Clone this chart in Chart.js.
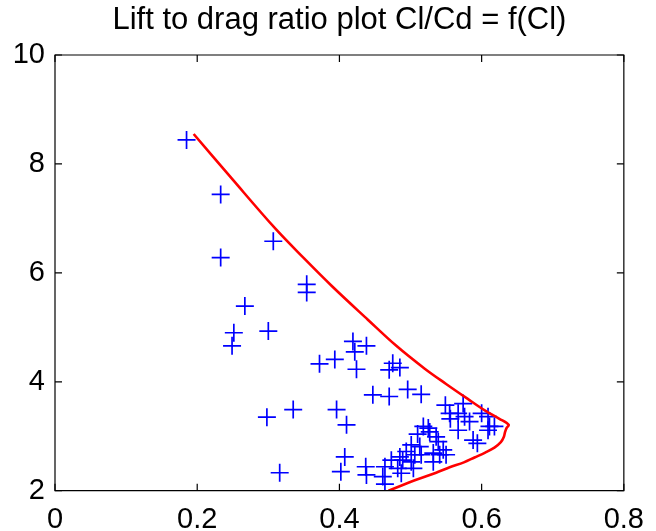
<!DOCTYPE html>
<html>
<head>
<meta charset="utf-8">
<script src="https://cdn.jsdelivr.net/npm/chart.js@4/dist/chart.umd.min.js"></script>
<style>
  html, body { margin: 0; padding: 0; background: #ffffff; }
  #wrap { width: 656px; height: 531px; }
</style>
</head>
<body>
<div id="wrap"><canvas id="c" width="656" height="531"></canvas></div>
<script>
// Measured lift coefficient and lift-to-drag ratio
const clMeasured = [
  0.185, 0.233, 0.233, 0.307, 0.354, 0.354, 0.267, 0.2515, 0.249, 0.300,
  0.419, 0.438, 0.4216, 0.372, 0.3935, 0.424, 0.475, 0.485, 0.470, 0.447,
  0.470, 0.496, 0.515, 0.335, 0.298, 0.396, 0.410, 0.4075, 0.402, 0.316,
  0.437, 0.438, 0.464, 0.464, 0.549, 0.574, 0.555, 0.567, 0.576, 0.583,
  0.600, 0.609, 0.611, 0.618, 0.609, 0.588, 0.594, 0.567, 0.518, 0.525,
  0.527, 0.510, 0.539, 0.546, 0.541, 0.550, 0.501, 0.513, 0.494, 0.506,
  0.515, 0.485, 0.489, 0.501, 0.473, 0.482, 0.461, 0.504, 0.532, 0.536,
  0.487, 0.532, 0.556
];
const ldMeasured = [
  8.44, 7.44, 6.28, 6.58, 5.79, 5.64, 5.39, 4.90, 4.66, 4.93,
  4.74, 4.66, 4.55, 4.33, 4.41, 4.23, 4.34, 4.26, 4.22, 3.76,
  3.73, 3.86, 3.77, 3.49, 3.35, 3.49, 3.21, 2.62, 2.35, 2.33,
  2.44, 2.29, 2.44, 2.12, 3.57, 3.60, 3.42, 3.42, 3.36, 3.27,
  3.42, 3.36, 3.18, 3.18, 3.11, 2.93, 2.87, 3.11, 3.18, 3.15,
  3.08, 3.04, 2.90, 2.75, 2.66, 2.66, 2.84, 2.81, 2.72, 2.66,
  2.66, 2.62, 2.56, 2.53, 2.56, 2.41, 2.26, 2.41, 2.69, 2.99,
  2.32, 2.53, 3.32
];

// Envelope curve Cl/Cd = f(Cl): upper branch to the tip, then the lower branch
const clEnvelope = [
  0.195, 0.25, 0.31, 0.35, 0.39, 0.44, 0.48, 0.52, 0.55, 0.58, 0.605, 0.625, 0.638,
  0.635, 0.633, 0.631, 0.627, 0.618, 0.605, 0.59, 0.575, 0.555, 0.536, 0.51, 0.49, 0.469
];
const ldEnvelope = [
  8.55, 7.71, 6.81, 6.27, 5.75, 5.14, 4.66, 4.24, 3.96, 3.69, 3.47, 3.32, 3.21,
  3.15, 3.08, 2.98, 2.89, 2.79, 2.70, 2.61, 2.52, 2.43, 2.33, 2.21, 2.11, 2.00
];

const xTicks = [0, 0.2, 0.4, 0.6, 0.8];
const yTicks = [2, 4, 6, 8, 10];

const FONT = "'Liberation Sans', Arial, Helvetica, sans-serif";

const measuredPoints = clMeasured.map((x, i) => ({ x: x, y: ldMeasured[i] }));
const envelopePoints = clEnvelope.map((x, i) => ({ x: x, y: ldEnvelope[i] }));

// Box frame with inward tick marks on all four sides
const boxFrame = {
  id: 'boxFrame',
  afterDraw(chart) {
    const { ctx, chartArea: a, scales } = chart;
    const len = 7;
    ctx.save();
    ctx.strokeStyle = '#000000';
    ctx.lineWidth = 1.2;
    ctx.beginPath();
    ctx.rect(a.left, a.top, a.right - a.left, a.bottom - a.top);
    ctx.stroke();
    ctx.beginPath();
    xTicks.forEach(v => {
      const px = scales.x.getPixelForValue(v);
      ctx.moveTo(px, a.bottom); ctx.lineTo(px, a.bottom - len);
      ctx.moveTo(px, a.top); ctx.lineTo(px, a.top + len);
    });
    yTicks.forEach(v => {
      const py = scales.y.getPixelForValue(v);
      ctx.moveTo(a.left, py); ctx.lineTo(a.left + len, py);
      ctx.moveTo(a.right, py); ctx.lineTo(a.right - len, py);
    });
    ctx.stroke();
    ctx.restore();
  }
};

new Chart(document.getElementById('c'), {
  type: 'scatter',
  data: {
    datasets: [
      {
        label: 'Envelope',
        data: envelopePoints,
        showLine: true,
        borderColor: '#ff0000',
        borderWidth: 2.6,
        pointRadius: 0,
        tension: 0.35,
        fill: false,
        order: 0
      },
      {
        label: 'Measured',
        data: measuredPoints,
        showLine: false,
        pointStyle: 'cross',
        pointRadius: 9,
        pointBorderWidth: 1.7,
        borderColor: '#0000ff',
        backgroundColor: '#0000ff',
        order: 1
      }
    ]
  },
  options: {
    responsive: false,
    animation: false,
    events: [],
    layout: { padding: { left: 0, right: 31.7, top: 0, bottom: 0 } },
    plugins: {
      legend: { display: false },
      tooltip: { enabled: false },
      title: {
        display: true,
        text: 'Lift to drag ratio plot Cl/Cd = f(Cl)',
        color: '#000000',
        fullSize: false,
        font: { family: FONT, size: 31, weight: 'normal', lineHeight: 1.2 },
        padding: { top: 2, bottom: 15.8 }
      }
    },
    scales: {
      x: {
        type: 'linear',
        min: 0, max: 0.8,
        afterBuildTicks(scale) { scale.ticks = xTicks.map(v => ({ value: v })); },
        afterFit(scale) { scale.height = 40.3; },
        grid: { display: false, drawTicks: false },
        border: { display: false },
        ticks: {
          color: '#000000',
          padding: 12,
          font: { family: FONT, size: 29 },
          callback: v => String(Number(v.toFixed(1)))
        }
      },
      y: {
        type: 'linear',
        min: 2, max: 10,
        afterBuildTicks(scale) { scale.ticks = yTicks.map(v => ({ value: v })); },
        afterFit(scale) { scale.width = 55; },
        grid: { display: false, drawTicks: false },
        border: { display: false },
        ticks: {
          color: '#000000',
          padding: 10,
          font: { family: FONT, size: 29 },
          callback: v => String(v)
        }
      }
    }
  },
  plugins: [boxFrame]
});
</script>
</body>
</html>
